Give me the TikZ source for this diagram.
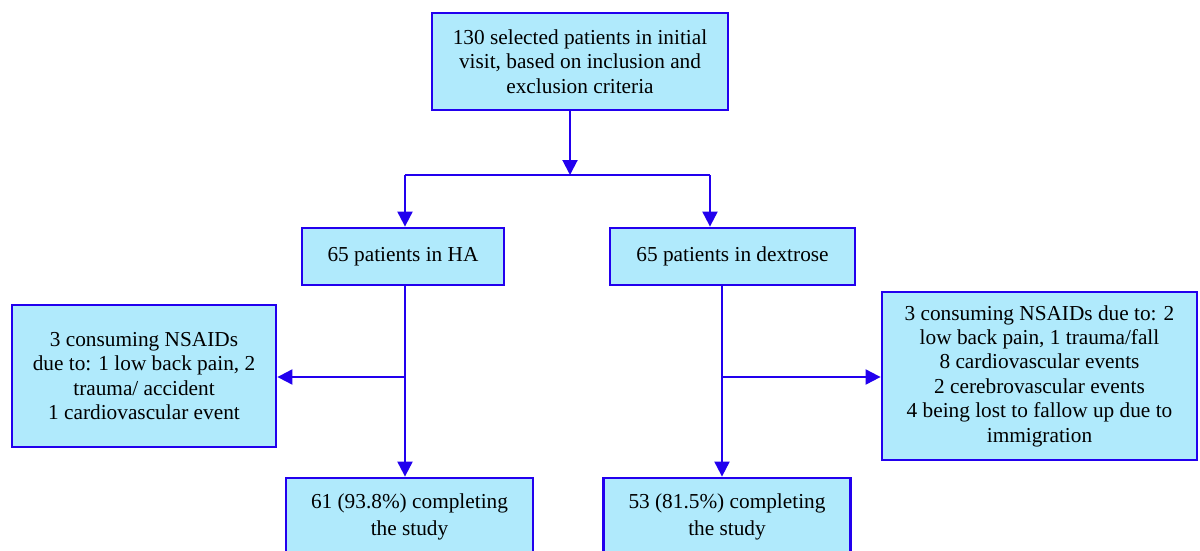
\documentclass[tikz,border=0pt]{standalone}
\usepackage{fontspec}
\setmainfont{Liberation Serif}
\usetikzlibrary{arrows.meta}
\definecolor{bordblue}{RGB}{34,0,238}
\definecolor{boxfill}{RGB}{176,234,252}
\tikzset{
  box/.style={draw=bordblue, fill=boxfill, line width=2.8pt, rectangle, inner sep=0pt,
    align=center, font=\fontsize{21.3}{24.4}\selectfont, text=black},
  widebox/.style={box, font=\fontsize{21.3}{27}\selectfont},
  conn/.style={draw=bordblue, line width=2pt},
  arr/.style={conn, -{Triangle[length=15pt,width=15pt]}}
}
\begin{document}
\begin{tikzpicture}[x=1pt,y=-1pt]
\useasboundingbox (0,0) rectangle (1200,550);
\node[box, minimum width=296pt, minimum height=97pt] (top) at (580,61.5)
  {130 selected patients in initial\\visit, based on inclusion and\\exclusion criteria};
\node[box, minimum width=202pt, minimum height=57pt] (ha) at (403,256.5) {65 patients in HA};
\node[box, minimum width=245pt, minimum height=57pt] (dx) at (732.5,256.5) {65 patients in dextrose};
\node[box, minimum width=264pt, minimum height=142pt] (left) at (144,376)
  {3 consuming NSAIDs\\due to: 1 low back pain, 2\\trauma/ accident\\1 cardiovascular event};
\node[box, minimum width=315pt, minimum height=168pt] (right) at (1039.5,376)
  {3 consuming NSAIDs due to: 2\\low back pain, 1 trauma/fall\\8 cardiovascular events\\2 cerebrovascular events\\4 being lost to fallow up due to\\immigration};
\node[widebox, minimum width=247pt, minimum height=78pt] (bl) at (409.5,517)
  {61 (93.8\%) completing\\the study};
\node[widebox, minimum width=247pt, minimum height=78pt] (br) at (727,517)
  {53 (81.5\%) completing\\the study};
\coordinate (j) at (570,175);
\coordinate (jl) at (405,175);
\coordinate (jr) at (710,175);
\coordinate (hl) at (405,377);
\coordinate (hr) at (722,377);
\draw[arr] (j |- top.south) -- (j);
\draw[conn] (jl) -- (jr);
\draw[arr] (jl) -- (jl |- ha.north);
\draw[arr] (jr) -- (jr |- dx.north);
\draw[arr] (hl |- ha.south) -- (hl |- bl.north);
\draw[arr] (hl) -- (hl -| left.east);
\draw[arr] (hr |- dx.south) -- (hr |- br.north);
\draw[arr] (hr) -- (hr -| right.west);
\end{tikzpicture}
\end{document}
